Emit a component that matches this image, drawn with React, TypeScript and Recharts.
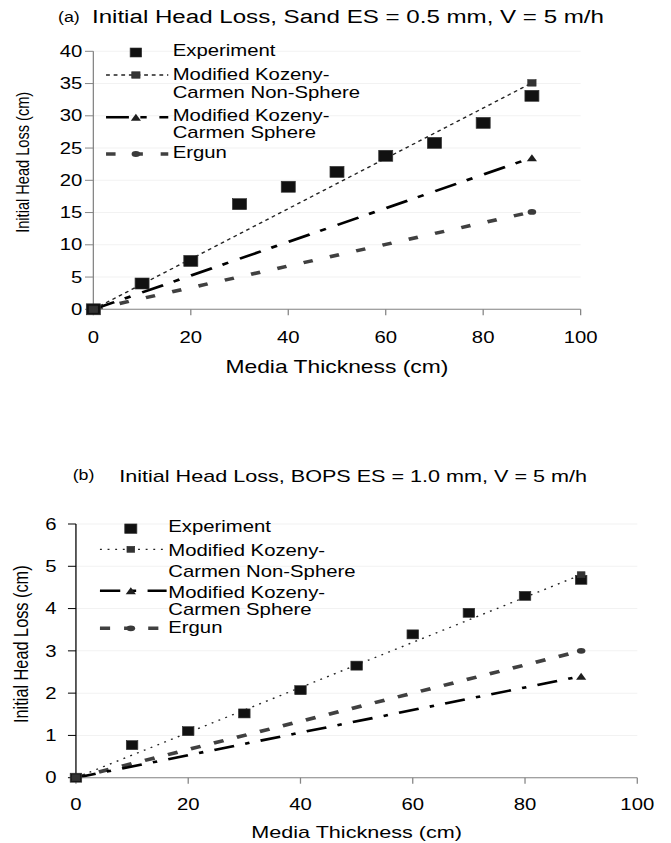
import React from "react";
import {
  ComposedChart,
  Line,
  Scatter,
  XAxis,
  YAxis,
  CartesianGrid,
  Legend,
  Label,
} from "recharts";

const FONT = '"Liberation Sans", Arial, Helvetica, sans-serif';
// the original figure is an Excel chart stretched sideways, so each panel is drawn narrow and scaled in x
const STRETCH = 1.27;
const W = 528;

// media thickness (cm)
const depths = [0, 10, 20, 30, 40, 50, 60, 70, 80, 90];
const modelDepths = [0, 90];
const xTicks = [0, 20, 40, 60, 80, 100];

// (a) sand, head loss (cm)
const sandExperiment = [0, 4.0, 7.5, 16.3, 19.0, 21.3, 23.8, 25.8, 28.9, 33.1];
const sandNonSphere = [0, 35.1];
const sandSphere = [0, 23.5];
const sandErgun = [0, 15.1];
const sandTicks = [0, 5, 10, 15, 20, 25, 30, 35, 40];

// (b) BOPS, head loss (cm)
const bopsExperiment = [0, 0.77, 1.1, 1.52, 2.07, 2.65, 3.39, 3.9, 4.3, 4.68];
const bopsNonSphere = [0, 4.8];
const bopsSphere = [0, 2.4];
const bopsErgun = [0, 3.0];
const bopsTicks = [0, 1, 2, 3, 4, 5, 6];

const legendLines = [
  ["Experiment"],
  ["Modified Kozeny-", "Carmen Non-Sphere"],
  ["Modified Kozeny-", "Carmen Sphere"],
  ["Ergun"],
];

const toPoints = (xs: number[], ys: number[]) =>
  xs.map((x, i) => ({ x, y: ys[i] }));

const squareShape = (size: number, fill: string) => (p: any) => (
  <rect
    key={"sq" + p.index + "-" + p.cx}
    x={p.cx - size / 2}
    y={p.cy - size / 2}
    width={size}
    height={size}
    fill={fill}
    stroke="#333"
    strokeWidth={0.6}
  />
);

const triangleShape = (w: number, h: number) => (p: any) => (
  <polygon
    key={"tr" + p.index}
    points={`${p.cx - w / 2},${p.cy + h / 2} ${p.cx + w / 2},${p.cy + h / 2} ${p.cx},${p.cy - h / 2}`}
    fill="#1e1e1e"
  />
);

const circleShape = (r: number) => (p: any) => (
  <ellipse key={"ci" + p.index} cx={p.cx} cy={p.cy} rx={r} ry={r * 0.85} fill="#3a3a3a" />
);

function Panel(p: any) {
  const exp = toPoints(depths, p.experiment);
  const ns = toPoints(modelDepths, p.nonSphere);
  const sp = toPoints(modelDepths, p.sphere);
  const er = toPoints(modelDepths, p.ergun);
  const lg = p.legend;
  const st = p.styles;
  const texts = legendLines.flat();

  const legendContent = () => (
    <svg width={W} height={220} style={{ overflow: "visible", display: "block" }}>
      {squareShape(lg.expSize, "#111")({ cx: lg.markX, cy: lg.expY, index: 0 })}
      <line x1={lg.lineX1} x2={lg.lineX2} y1={lg.nsY} y2={lg.nsY} stroke="#222" strokeWidth={st.nsWidth} strokeDasharray={st.nsDash} />
      {squareShape(p.nsSize, "#333")({ cx: lg.markX, cy: lg.nsY, index: 1 })}
      <line x1={lg.lineX1} x2={lg.lineX2} y1={lg.spY} y2={lg.spY} stroke="#000" strokeWidth={st.spWidth} strokeDasharray={st.spDash} />
      {triangleShape(8, 7)({ cx: lg.markX, cy: lg.spY, index: 2 })}
      <line x1={lg.lineX1} x2={lg.lineX2} y1={lg.erY} y2={lg.erY} stroke="#404040" strokeWidth={st.erWidth} strokeDasharray={st.erDash} />
      {circleShape(3.4)({ cx: lg.markX, cy: lg.erY, index: 3 })}
      {texts.map((t, i) => (
        <text key={i} x={lg.textX} y={lg.baselines[i]} fontSize={16} fontFamily={FONT} fill="#000">
          {t}
        </text>
      ))}
    </svg>
  );

  return (
    <div
      style={{
        position: "absolute",
        left: 0,
        top: p.top,
        width: W,
        height: p.height,
        transform: `scaleX(${STRETCH})`,
        transformOrigin: "0 0",
      }}
    >
      <ComposedChart width={W} height={p.height} margin={p.margin}>
        <CartesianGrid vertical={false} stroke="#f2f2f2" />
        <XAxis
          type="number"
          dataKey="x"
          domain={[0, 100]}
          ticks={xTicks}
          interval={0}
          height={60}
          tickSize={6}
          tickMargin={p.xTickMargin}
          stroke="#858585"
          tick={{ fill: "#000", fontSize: 16, fontFamily: FONT }}
        >
          <Label
            content={() => (
              <text x={p.xTitle.x} y={p.xTitle.y} textAnchor="middle" fontSize={p.xTitle.size} fontFamily={FONT} fill="#000">
                Media Thickness (cm)
              </text>
            )}
          />
        </XAxis>
        <YAxis
          type="number"
          domain={[0, p.yTicks[p.yTicks.length - 1]]}
          ticks={p.yTicks}
          interval={0}
          width={p.yAxisWidth}
          tickSize={p.yTickSize}
          tickMargin={p.yTickMargin}
          stroke={p.yAxisColor}
          tick={{ fill: "#000", fontSize: 16, fontFamily: FONT }}
        >
          <Label
            content={() => (
              <text
                x={p.yTitle.x}
                y={p.yTitle.y}
                transform={`rotate(-90, ${p.yTitle.x}, ${p.yTitle.y})`}
                textAnchor="middle"
                fontSize={p.yTitle.size}
                fontFamily={FONT}
                fill="#000"
              >
                Initial Head Loss (cm)
              </text>
            )}
          />
        </YAxis>
        <Legend
          layout="vertical"
          align="center"
          verticalAlign="middle"
          content={legendContent}
          wrapperStyle={{ position: "absolute", left: 0, top: 0, width: W, height: 220, pointerEvents: "none" }}
        />
        <Line
          data={er}
          dataKey="y"
          type="linear"
          stroke="#404040"
          strokeWidth={st.erWidth}
          strokeDasharray={st.erDash}
          dot={circleShape(3.4)}
          activeDot={false}
          isAnimationActive={false}
        />
        <Line
          data={sp}
          dataKey="y"
          type="linear"
          stroke="#000"
          strokeWidth={st.spWidth}
          strokeDasharray={st.spDash}
          dot={triangleShape(8, 7)}
          activeDot={false}
          isAnimationActive={false}
        />
        <Line
          data={ns}
          dataKey="y"
          type="linear"
          stroke="#222"
          strokeWidth={st.nsWidth}
          strokeDasharray={st.nsDash}
          dot={squareShape(p.nsSize, "#333")}
          activeDot={false}
          isAnimationActive={false}
        />
        <Scatter data={exp} dataKey="y" shape={squareShape(p.expSize, "#111")} isAnimationActive={false} />
      </ComposedChart>
      <svg width={W} height={50} style={{ position: "absolute", left: 0, top: 0, overflow: "visible" }}>
        <text x={p.letterX} y={p.letterY} fontSize={14} fontFamily={FONT} fill="#000">
          {p.letter}
        </text>
        <text x={p.titleX} y={p.titleY} fontSize={p.titleSize} fontFamily={FONT} fill="#000">
          {p.title}
        </text>
      </svg>
    </div>
  );
}

export default function App() {
  return (
    <div style={{ position: "absolute", left: 0, top: 0, width: 671, height: 843, background: "#fff" }}>
      <Panel
        top={0}
        height={390}
        margin={{ top: 51.3, right: 70.8, bottom: 20.7, left: 0 }}
        yAxisWidth={73.5}
        yTicks={sandTicks}
        yTickSize={6.6}
        yTickMargin={2}
        xTickMargin={16}
        yAxisColor="#858585"
        experiment={sandExperiment}
        nonSphere={sandNonSphere}
        sphere={sandSphere}
        ergun={sandErgun}
        letter="(a)"
        letterX={45.7}
        letterY={22}
        title="Initial Head Loss, Sand ES = 0.5 mm, V = 5 m/h"
        titleX={72.4}
        titleY={22.7}
        titleSize={19}
        xTitle={{ x: 265.3, y: 373.4, size: 18 }}
        yTitle={{ x: 23.1, y: 162.3, size: 14.6 }}
        expSize={11}
        nsSize={6.5}
        styles={{ nsDash: "3 3", nsWidth: 1.3, spDash: "18 9 5 10", spWidth: 2.6, erDash: "7.5 14", erWidth: 3.5 }}
        legend={{
          textX: 136,
          markX: 107,
          lineX1: 83.5,
          lineX2: 132.5,
          expY: 52.5,
          nsY: 75,
          spY: 117.3,
          erY: 154,
          expSize: 9,
          baselines: [56.5, 80.5, 98.5, 121, 138.5, 158.5],
        }}
      />
      <Panel
        top={440}
        height={403}
        margin={{ top: 84, right: 26.2, bottom: 5.3, left: 0 }}
        yAxisWidth={59.8}
        yTicks={bopsTicks}
        yTickSize={6.3}
        yTickMargin={9}
        xTickMargin={15}
        yAxisColor="#000"
        experiment={bopsExperiment}
        nonSphere={bopsNonSphere}
        sphere={bopsSphere}
        ergun={bopsErgun}
        letter="(b)"
        letterX={57.2}
        letterY={40}
        title="Initial Head Loss, BOPS ES = 1.0 mm, V = 5 m/h"
        titleX={93.9}
        titleY={41.7}
        titleSize={17}
        xTitle={{ x: 280.8, y: 397.8, size: 17 }}
        yTitle={{ x: 22.4, y: 204.2, size: 16.3 }}
        expSize={9}
        nsSize={6}
        styles={{ nsDash: "1.5 4.5", nsWidth: 1.3, spDash: "16 9 3.5 9", spWidth: 2.6, erDash: "8 11", erWidth: 3.6 }}
        legend={{
          textX: 132.5,
          markX: 103,
          lineX1: 78.7,
          lineX2: 131.2,
          expY: 88.7,
          nsY: 109.3,
          spY: 150.7,
          erY: 188.3,
          expSize: 9.5,
          baselines: [91.7, 116, 136.7, 158.3, 175, 193.3],
        }}
      />
    </div>
  );
}
